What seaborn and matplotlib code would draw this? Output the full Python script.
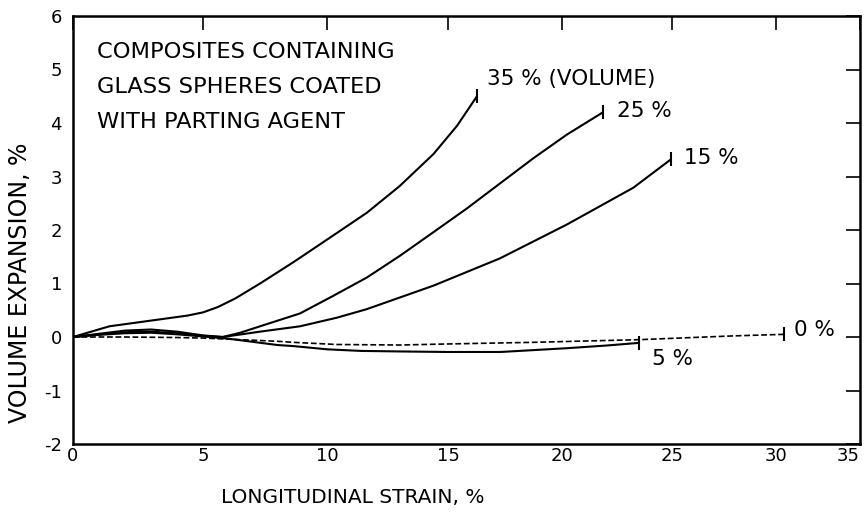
import numpy as np
import pandas as pd
import matplotlib
matplotlib.use("Agg")
import matplotlib.pyplot as plt
import seaborn as sns

# ---------------- data ----------------
strain_35 = [0, 1.4, 3.35, 4.4, 5.0, 5.6, 6.3, 7.3, 8.65, 10.0, 11.64, 13.0, 14.4, 15.4, 16.27]
vol_35 = [0, 0.20, 0.33, 0.40, 0.46, 0.56, 0.72, 1.00, 1.40, 1.82, 2.32, 2.82, 3.42, 3.95, 4.50]

strain_25 = [0, 1, 2, 3, 4, 5, 5.8, 6.5, 7.3, 8.91, 10.26, 11.64, 13.02, 14.4, 15.82, 17.28, 18.74, 20.21, 21.86]
vol_25 = [0, 0.06, 0.12, 0.14, 0.10, 0.03, 0.0, 0.08, 0.20, 0.44, 0.77, 1.11, 1.52, 1.96, 2.40, 2.87, 3.34, 3.78, 4.20]

strain_15 = [0, 1, 2, 3, 4, 5, 5.8, 7.3, 8.91, 10.4, 11.64, 14.4, 17.28, 20.21, 23.24, 24.95]
vol_15 = [0, 0.05, 0.09, 0.10, 0.07, 0.02, 0.0, 0.10, 0.20, 0.36, 0.52, 0.96, 1.47, 2.10, 2.79, 3.32]

strain_5 = [0, 1, 2, 3, 4, 5, 6, 7, 8, 8.65, 10, 11.4, 13, 15, 17.3, 20.2, 22, 23.5]
vol_5 = [0, 0.04, 0.07, 0.08, 0.05, 0.01, -0.03, -0.09, -0.15, -0.17, -0.23, -0.26, -0.27, -0.28, -0.28, -0.21, -0.16, -0.11]

strain_0 = [0, 2, 4, 5, 6, 8, 8.65, 10.4, 13, 15, 18.7, 23.5, 27.9, 30.5]
vol_0 = [0, 0, -0.01, -0.02, -0.04, -0.08, -0.10, -0.14, -0.15, -0.13, -0.10, -0.05, 0.02, 0.05]

series_names = ["35 %", "25 %", "15 %", "5 %", "0 %"]
series_x = [strain_35, strain_25, strain_15, strain_5, strain_0]
series_y = [vol_35, vol_25, vol_15, vol_5, vol_0]

curve_labels = ["35 % (VOLUME)", "25 %", "15 %", "5 %", "0 %"]
label_x = [16.71, 22.5, 25.6, 24.1, 31.1]
label_y = [4.82, 4.22, 3.35, -0.42, 0.13]

x_ticks = [0, 5, 10, 15, 20, 25, 30, 35]
x_tick_labels = ["0", "5", "10", "15", "20", "25", "30", "35"]
y_ticks = [-2, -1, 0, 1, 2, 3, 4, 5, 6]
y_tick_labels = ["-2", "-1", "0", "1", "2", "3", "4", "5", "6"]

note_lines = ["COMPOSITES CONTAINING", "GLASS SPHERES COATED", "WITH PARTING AGENT"]

# horizontal distortion of the printed axis (relative tick spacing measured on the figure)
axis_warp = [0, 130, 254, 375, 489, 599, 703, 787]

# ---------------- build table ----------------
rows = []
for name, xs, ys in zip(series_names, series_x, series_y):
    for i, (a, b) in enumerate(zip(xs, ys)):
        rows.append({"series": name, "order": i, "strain": a, "vol": b})
df = pd.DataFrame(rows)

# ---------------- style ----------------
sns.set_theme(style="white")
plt.rcParams["font.family"] = ["DejaVu Sans"]

fig = plt.figure(figsize=(8.68, 5.18), dpi=100)
ax = fig.add_axes([73 / 868, 1 - 444 / 518, 787 / 868, 428 / 518])

wx = np.array(x_ticks, float)
wu = np.array(axis_warp, float)


def fwd(x):
    x = np.asarray(x, float)
    u = np.interp(x, wx, wu)
    u = np.where(x < wx[0], wu[0] + (x - wx[0]) * (wu[1] - wu[0]) / (wx[1] - wx[0]), u)
    u = np.where(x > wx[-1], wu[-1] + (x - wx[-1]) * (wu[-1] - wu[-2]) / (wx[-1] - wx[-2]), u)
    return u


def inv(u):
    u = np.asarray(u, float)
    x = np.interp(u, wu, wx)
    x = np.where(u < wu[0], wx[0] + (u - wu[0]) * (wx[1] - wx[0]) / (wu[1] - wu[0]), x)
    x = np.where(u > wu[-1], wx[-1] + (u - wu[-1]) * (wx[-1] - wx[-2]) / (wu[-1] - wu[-2]), x)
    return x


ax.set_xscale("function", functions=(fwd, inv))

for name in series_names:
    sub = df[df["series"] == name].sort_values("order")
    dashed = name == "0 %"
    sns.lineplot(data=sub, x="strain", y="vol", ax=ax, color="black",
                 linewidth=1.2 if dashed else 1.5, estimator=None, sort=False,
                 linestyle=(0, (3.5, 1.6)) if dashed else "-", legend=False)
    end = sub.iloc[[-1]]
    sns.scatterplot(data=end, x="strain", y="vol", ax=ax, marker="|", s=90,
                    color="black", linewidth=1.5, legend=False, zorder=5)

for txt, lx, ly in zip(curve_labels, label_x, label_y):
    ax.text(lx, ly, txt, ha="left", va="center", fontsize=15.5, color="black")

for i, line in enumerate(note_lines):
    ax.text(0.030, 0.916 - i * 0.082, line, transform=ax.transAxes,
            ha="left", va="center", fontsize=16.2, color="black")

ax.set_xlim(0, 35)
ax.set_ylim(-2, 6)
ax.set_xticks(x_ticks)
ax.set_xticklabels(x_tick_labels)
ax.set_yticks(y_ticks)
ax.set_yticklabels(y_tick_labels)
ax.minorticks_off()
ax.tick_params(axis="both", direction="in", length=10, width=1.2, colors="black",
               top=True, right=True, labelsize=13)
ax.tick_params(axis="x", pad=2.5)
ax.tick_params(axis="y", pad=8)
ax.xaxis.get_major_ticks()[-1].label1.set_horizontalalignment("right")
for s in ax.spines.values():
    s.set_visible(True)
    s.set_color("black")
    s.set_linewidth(1.8)

ax.set_xlabel("LONGITUDINAL STRAIN, %", fontsize=14.5, color="black")
ax.set_ylabel("VOLUME EXPANSION, %", fontsize=17, color="black")
ax.xaxis.set_label_coords(0.355, -0.103)
ax.yaxis.set_label_coords(-0.052, 0.377)

fig.savefig("out.png", dpi=100, facecolor="white")
